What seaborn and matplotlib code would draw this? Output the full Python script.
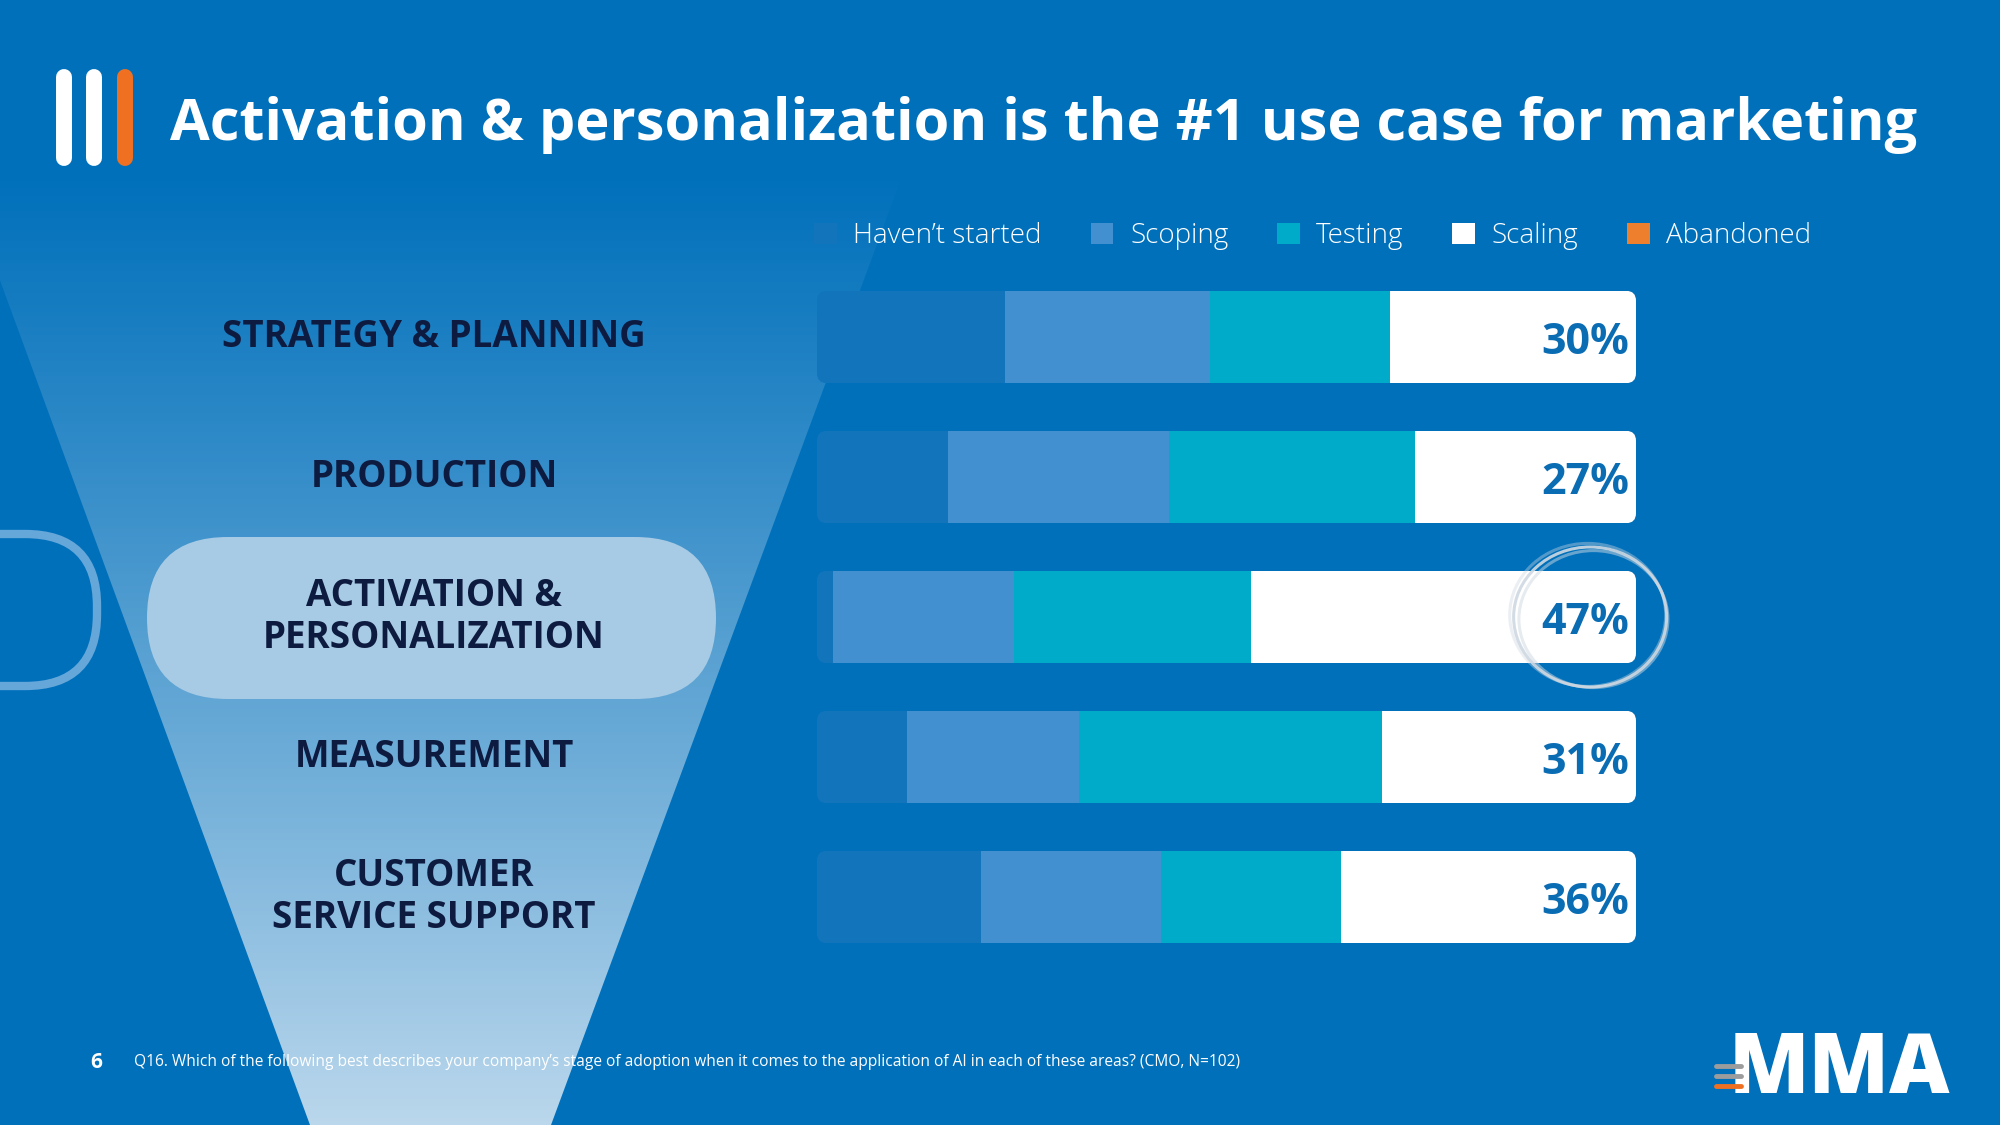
import numpy as np
import pandas as pd
import seaborn as sns
import matplotlib.pyplot as plt
import matplotlib.colors as mcolors
import matplotlib.transforms as mtransforms
from matplotlib.patches import Polygon, FancyBboxPatch, Ellipse, Rectangle

# ---- values (% of CMOs per stage) ----
areas = ["STRATEGY & PLANNING", "PRODUCTION", "ACTIVATION &\nPERSONALIZATION",
         "MEASUREMENT", "CUSTOMER\nSERVICE SUPPORT"]
stages = ["Haven’t started", "Scoping", "Testing", "Scaling", "Abandoned"]
havent_started = [23, 16, 2, 11, 20]
scoping = [25, 27, 22, 21, 22]
testing = [22, 30, 29, 37, 22]
scaling = [30, 27, 47, 31, 36]
abandoned = [0, 0, 0, 0, 0]
highlight = "ACTIVATION &\nPERSONALIZATION"

title = "Activation & personalization is the #1 use case for marketing"
footnote = ("Q16. Which of the following best describes your company’s stage of adoption when it "
            "comes to the application of AI in each of these areas? (CMO, N=102)")
page_no = "6"

# ---- style ----
sns.set_style("white")
plt.rcParams["font.family"] = ["Open Sans", "DejaVu Sans"]

BG = "#0070BB"
stage_colors = ["#1275BB", "#4290CF", "#00ABCA", "#FFFFFF", "#EE7F2D"]
NAVY = "#0E1B40"
ORANGE = "#F07022"

fig = plt.figure(figsize=(20, 11.25), dpi=100, facecolor=BG)

# background layer, pixel units
bg = fig.add_axes([0, 0, 1, 1], zorder=0)
bg.set_facecolor(BG)

# funnel with a vertical gradient
funnel = Polygon([(-42, 166), (906, 166), (551, 1125), (310, 1125)], closed=True,
                 facecolor="none", edgecolor="none")
bg.add_patch(funnel)
c_top = np.array(mcolors.to_rgb(BG))
c_bot = np.array(mcolors.to_rgb("#BAD7EC"))
t = np.linspace(0, 1, 256)[:, None, None] ** 1.1
grad = c_top + (c_bot - c_top) * t
im = bg.imshow(grad, extent=(-42, 906, 1125, 166), aspect="auto", zorder=1)
im.set_clip_path(funnel)

# highlight pill and the outlined shape on the left edge
bg.add_patch(FancyBboxPatch((147, 537), 569, 162, boxstyle="round,pad=0,rounding_size=81",
                            facecolor="#A8CBE5", edgecolor="none", zorder=2))
bg.add_patch(FancyBboxPatch((-150, 534), 247, 152, boxstyle="round,pad=0,rounding_size=72",
                            facecolor="none", edgecolor="#66A7DA", lw=6, zorder=2))

# title marker bars
for x, c in zip([64, 94, 125], ["white", "white", ORANGE]):
    bg.plot([x, x], [77, 158], color=c, lw=11.5, solid_capstyle="round", zorder=3)
bg.text(170, 140, title, color="white", fontsize=41.5, fontweight="bold", va="baseline", zorder=3)

# footer
bg.text(96, 1062, page_no, color="white", fontsize=15, fontweight="bold", ha="center", va="center")
bg.text(134, 1062, footnote, color="white", fontsize=11.2, va="center")

# MMA logo
bg.text(1729, 1093, "MMA", color="white", fontsize=60, fontweight="heavy", va="baseline")
for y, c in zip([1066, 1076, 1086], ["#9C9C9C", "#9C9C9C", ORANGE]):
    bg.plot([1716, 1741], [y, y], color=c, lw=3.5, solid_capstyle="round", zorder=4)

bg.set_xlim(0, 2000)
bg.set_ylim(1125, 0)
bg.axis("off")

# ---- stacked bars ----
ax = fig.add_axes([817 / 2000, 1 - 967 / 1125, 819 / 2000, 700 / 1125], zorder=2)
ax.patch.set_alpha(0)

series = [havent_started, scoping, testing, scaling, abandoned]
left = np.zeros(len(areas))
for vals, col in zip(series, stage_colors):
    sns.barplot(x=vals, y=areas, orient="h", color=col, saturation=1, width=0.66,
                errorbar=None, left=left, linewidth=0, ax=ax)
    left = left + np.array(vals)

ax.set_xlim(0, 100)
ax.set_ylim(len(areas) - 0.5, -0.5)
ax.axis("off")

# rounded ends for every row
fig_w, fig_h = fig.get_size_inches() * fig.dpi
pos = ax.get_position()
px_x = pos.width * fig_w / 100
px_y = pos.height * fig_h / len(areas)
r_px = 10
for i in range(len(areas)):
    box = FancyBboxPatch((0, i - 0.33), 100, 0.66,
                         boxstyle=f"round,pad=0,rounding_size={r_px / px_x}",
                         mutation_aspect=px_x / px_y, transform=ax.transData)
    for bar in ax.patches:
        if abs(bar.get_y() + bar.get_height() / 2 - i) < 0.3:
            bar.set_clip_path(box)

# scaling share labels
for i, v in enumerate(scaling):
    ax.text(99.2, i, f"{v}%", color="#0A6CB3", fontsize=31, fontweight="bold",
            ha="right", va="center_baseline")

# hand-drawn style circle around the top use case
hi = areas.index(highlight)
for dx, dy, w, h, a in [(0, 0, 153, 140, 0.9), (0.4, 0.015, 149, 137, 0.5),
                        (-0.3, -0.015, 156, 143, 0.4)]:
    ax.add_patch(Ellipse((94.4 + dx, hi + dy), w / px_x, h / px_y,
                         fill=False, edgecolor="#CFD9E2", lw=2.2, alpha=a, clip_on=False))

# row labels in the funnel
lab_tr = mtransforms.blended_transform_factory(bg.transData, ax.transData)
for i, name in enumerate(areas):
    ax.text(434, i, name, transform=lab_tr, color=NAVY, fontsize=26.5, fontweight="bold",
            ha="center", va="center", linespacing=1.12, multialignment="center")

# legend
handles = [Rectangle((0, 0), 1, 1, facecolor=c, edgecolor="none") for c in stage_colors]
fig.legend(handles, stages, loc="center left", bbox_to_anchor=(814 / 2000, 1 - 236 / 1125),
           ncol=5, frameon=False, prop={"size": 20, "weight": "light"}, labelcolor="white",
           handlelength=0.82, handleheight=0.82, handletextpad=0.6, columnspacing=1.75,
           borderaxespad=0, borderpad=0)

fig.savefig("out.png", dpi=100, facecolor=BG)
